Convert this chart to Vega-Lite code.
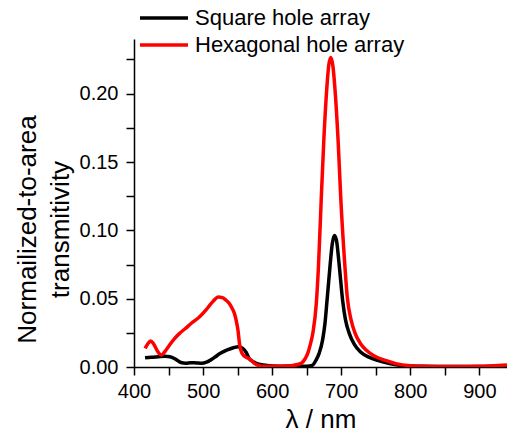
{
  "$schema": "https://vega.github.io/schema/vega-lite/v6.json",
  "width": 373,
  "height": 328,
  "autosize": {"type": "none"},
  "padding": {"left": 134, "top": 39, "right": 0, "bottom": 65},
  "config": {
    "font": "Liberation Sans",
    "view": {"stroke": null},
    "axis": {"grid": false, "domainColor": "black", "domainWidth": 1.5, "tickColor": "black", "tickWidth": 1.5, "labelColor": "black", "titleColor": "black", "labelFont": "Liberation Sans", "titleFont": "Liberation Sans", "titleFontWeight": "normal"}
  },
  "datasets": {
    "curves": [
      {"w": 416, "t": 0.0068, "s": "Square hole array"},
      {"w": 425, "t": 0.0072, "s": "Square hole array"},
      {"w": 435, "t": 0.0075, "s": "Square hole array"},
      {"w": 445, "t": 0.0078, "s": "Square hole array"},
      {"w": 452, "t": 0.0075, "s": "Square hole array"},
      {"w": 460, "t": 0.0058, "s": "Square hole array"},
      {"w": 468, "t": 0.0033, "s": "Square hole array"},
      {"w": 475, "t": 0.0028, "s": "Square hole array"},
      {"w": 482, "t": 0.0032, "s": "Square hole array"},
      {"w": 490, "t": 0.0030, "s": "Square hole array"},
      {"w": 498, "t": 0.0027, "s": "Square hole array"},
      {"w": 505, "t": 0.0035, "s": "Square hole array"},
      {"w": 515, "t": 0.0065, "s": "Square hole array"},
      {"w": 525, "t": 0.0100, "s": "Square hole array"},
      {"w": 535, "t": 0.0125, "s": "Square hole array"},
      {"w": 545, "t": 0.0143, "s": "Square hole array"},
      {"w": 551, "t": 0.0148, "s": "Square hole array"},
      {"w": 557, "t": 0.0138, "s": "Square hole array"},
      {"w": 562, "t": 0.0110, "s": "Square hole array"},
      {"w": 567, "t": 0.0060, "s": "Square hole array"},
      {"w": 572, "t": 0.0040, "s": "Square hole array"},
      {"w": 577, "t": 0.0027, "s": "Square hole array"},
      {"w": 587, "t": 0.0015, "s": "Square hole array"},
      {"w": 600, "t": 0.0008, "s": "Square hole array"},
      {"w": 620, "t": 0.0005, "s": "Square hole array"},
      {"w": 640, "t": 0.0005, "s": "Square hole array"},
      {"w": 650, "t": 0.0006, "s": "Square hole array"},
      {"w": 658, "t": 0.0012, "s": "Square hole array"},
      {"w": 663.5, "t": 0.0050, "s": "Square hole array"},
      {"w": 668, "t": 0.0100, "s": "Square hole array"},
      {"w": 673, "t": 0.0197, "s": "Square hole array"},
      {"w": 676.5, "t": 0.0320, "s": "Square hole array"},
      {"w": 679.5, "t": 0.0489, "s": "Square hole array"},
      {"w": 684, "t": 0.0750, "s": "Square hole array"},
      {"w": 687, "t": 0.0900, "s": "Square hole array"},
      {"w": 690, "t": 0.0963, "s": "Square hole array"},
      {"w": 693, "t": 0.0930, "s": "Square hole array"},
      {"w": 697, "t": 0.0750, "s": "Square hole array"},
      {"w": 702, "t": 0.0489, "s": "Square hole array"},
      {"w": 706, "t": 0.0350, "s": "Square hole array"},
      {"w": 711.5, "t": 0.0248, "s": "Square hole array"},
      {"w": 719, "t": 0.0165, "s": "Square hole array"},
      {"w": 728, "t": 0.0110, "s": "Square hole array"},
      {"w": 740, "t": 0.0072, "s": "Square hole array"},
      {"w": 755, "t": 0.0045, "s": "Square hole array"},
      {"w": 770, "t": 0.0025, "s": "Square hole array"},
      {"w": 790, "t": 0.0010, "s": "Square hole array"},
      {"w": 820, "t": 0.0005, "s": "Square hole array"},
      {"w": 860, "t": 0.0003, "s": "Square hole array"},
      {"w": 900, "t": 0.0003, "s": "Square hole array"},
      {"w": 940, "t": 0.0005, "s": "Square hole array"},
      {"w": 416, "t": 0.0136, "s": "Hexagonal hole array"},
      {"w": 420, "t": 0.0170, "s": "Hexagonal hole array"},
      {"w": 424, "t": 0.0190, "s": "Hexagonal hole array"},
      {"w": 428, "t": 0.0172, "s": "Hexagonal hole array"},
      {"w": 433, "t": 0.0125, "s": "Hexagonal hole array"},
      {"w": 437, "t": 0.0095, "s": "Hexagonal hole array"},
      {"w": 440, "t": 0.0088, "s": "Hexagonal hole array"},
      {"w": 445, "t": 0.0115, "s": "Hexagonal hole array"},
      {"w": 452, "t": 0.0165, "s": "Hexagonal hole array"},
      {"w": 459, "t": 0.0210, "s": "Hexagonal hole array"},
      {"w": 466, "t": 0.0246, "s": "Hexagonal hole array"},
      {"w": 474, "t": 0.0280, "s": "Hexagonal hole array"},
      {"w": 483, "t": 0.0320, "s": "Hexagonal hole array"},
      {"w": 495, "t": 0.0367, "s": "Hexagonal hole array"},
      {"w": 503, "t": 0.0410, "s": "Hexagonal hole array"},
      {"w": 511, "t": 0.0460, "s": "Hexagonal hole array"},
      {"w": 517, "t": 0.0495, "s": "Hexagonal hole array"},
      {"w": 522, "t": 0.0513, "s": "Hexagonal hole array"},
      {"w": 528, "t": 0.0508, "s": "Hexagonal hole array"},
      {"w": 533, "t": 0.0490, "s": "Hexagonal hole array"},
      {"w": 538, "t": 0.0465, "s": "Hexagonal hole array"},
      {"w": 542, "t": 0.0430, "s": "Hexagonal hole array"},
      {"w": 545.5, "t": 0.0390, "s": "Hexagonal hole array"},
      {"w": 548, "t": 0.0340, "s": "Hexagonal hole array"},
      {"w": 550.5, "t": 0.0270, "s": "Hexagonal hole array"},
      {"w": 553, "t": 0.0160, "s": "Hexagonal hole array"},
      {"w": 556, "t": 0.0105, "s": "Hexagonal hole array"},
      {"w": 560, "t": 0.0078, "s": "Hexagonal hole array"},
      {"w": 565, "t": 0.0065, "s": "Hexagonal hole array"},
      {"w": 570, "t": 0.0048, "s": "Hexagonal hole array"},
      {"w": 575, "t": 0.0025, "s": "Hexagonal hole array"},
      {"w": 580, "t": 0.0012, "s": "Hexagonal hole array"},
      {"w": 590, "t": 0.0005, "s": "Hexagonal hole array"},
      {"w": 605, "t": 0.0005, "s": "Hexagonal hole array"},
      {"w": 620, "t": 0.0008, "s": "Hexagonal hole array"},
      {"w": 630, "t": 0.0012, "s": "Hexagonal hole array"},
      {"w": 637, "t": 0.0018, "s": "Hexagonal hole array"},
      {"w": 643, "t": 0.0030, "s": "Hexagonal hole array"},
      {"w": 647, "t": 0.0055, "s": "Hexagonal hole array"},
      {"w": 651.5, "t": 0.0100, "s": "Hexagonal hole array"},
      {"w": 655, "t": 0.0160, "s": "Hexagonal hole array"},
      {"w": 659, "t": 0.0250, "s": "Hexagonal hole array"},
      {"w": 664, "t": 0.0470, "s": "Hexagonal hole array"},
      {"w": 667, "t": 0.0730, "s": "Hexagonal hole array"},
      {"w": 671, "t": 0.1220, "s": "Hexagonal hole array"},
      {"w": 675, "t": 0.1680, "s": "Hexagonal hole array"},
      {"w": 679, "t": 0.2030, "s": "Hexagonal hole array"},
      {"w": 682, "t": 0.2210, "s": "Hexagonal hole array"},
      {"w": 685, "t": 0.2265, "s": "Hexagonal hole array"},
      {"w": 688, "t": 0.2200, "s": "Hexagonal hole array"},
      {"w": 691, "t": 0.2030, "s": "Hexagonal hole array"},
      {"w": 695.5, "t": 0.1657, "s": "Hexagonal hole array"},
      {"w": 699.5, "t": 0.1220, "s": "Hexagonal hole array"},
      {"w": 704.5, "t": 0.0800, "s": "Hexagonal hole array"},
      {"w": 709, "t": 0.0500, "s": "Hexagonal hole array"},
      {"w": 714, "t": 0.0350, "s": "Hexagonal hole array"},
      {"w": 720, "t": 0.0248, "s": "Hexagonal hole array"},
      {"w": 728, "t": 0.0170, "s": "Hexagonal hole array"},
      {"w": 736, "t": 0.0124, "s": "Hexagonal hole array"},
      {"w": 748, "t": 0.0080, "s": "Hexagonal hole array"},
      {"w": 764, "t": 0.0048, "s": "Hexagonal hole array"},
      {"w": 779, "t": 0.0025, "s": "Hexagonal hole array"},
      {"w": 800, "t": 0.0010, "s": "Hexagonal hole array"},
      {"w": 830, "t": 0.0004, "s": "Hexagonal hole array"},
      {"w": 865, "t": 0.0003, "s": "Hexagonal hole array"},
      {"w": 900, "t": 0.0005, "s": "Hexagonal hole array"},
      {"w": 920, "t": 0.0010, "s": "Hexagonal hole array"},
      {"w": 940, "t": 0.0015, "s": "Hexagonal hole array"}
    ]
  },
  "data": {"name": "curves"},
  "mark": {"type": "line", "strokeWidth": 3.5, "interpolate": "monotone", "clip": true},
  "encoding": {
    "x": {
      "field": "w", "type": "quantitative",
      "scale": {"domain": [400, 940], "nice": false, "zero": false},
      "axis": {
        "title": "λ / nm", "titleFontSize": 26, "titleBaseline": "alphabetic", "titleY": 60,
        "values": [400, 450, 500, 550, 600, 650, 700, 750, 800, 850, 900],
        "labelExpr": "datum.value % 100 === 0 ? datum.label : ''",
        "labelFontSize": 20, "labelPadding": 6, "tickSize": 8,
        "labelFlush": false, "labelOverlap": false
      }
    },
    "y": {
      "field": "t", "type": "quantitative",
      "scale": {"domain": [0, 0.24], "nice": false},
      "axis": {
        "title": ["Normailized-to-area", "transmitivity"], "titleFontSize": 26,
        "titleLineHeight": 33, "titleAngle": 270, "titleAlign": "center",
        "titleBaseline": "alphabetic", "titleX": -99, "titleY": 190,
        "values": [0, 0.025, 0.05, 0.075, 0.1, 0.125, 0.15, 0.175, 0.2, 0.225],
        "labelExpr": "round(datum.value * 1000) % 50 === 0 ? format(datum.value, '.2f') : ''",
        "labelFontSize": 20, "labelPadding": 8, "tickSize": 8, "labelOverlap": false
      }
    },
    "color": {
      "field": "s", "type": "nominal",
      "scale": {"domain": ["Square hole array", "Hexagonal hole array"], "range": ["#000000", "#ff0000"]},
      "legend": {
        "orient": "none", "legendX": 6, "legendY": -32, "title": null,
        "symbolType": "M-4,0H4", "symbolSize": 144, "symbolStrokeWidth": 3.5,
        "labelFontSize": 22, "labelFont": "Liberation Sans", "labelColor": "black",
        "labelLimit": 400, "symbolOffset": 13, "labelOffset": 20, "rowPadding": 5, "padding": 0
      }
    },
    "order": {"field": "w", "type": "quantitative"}
  }
}
